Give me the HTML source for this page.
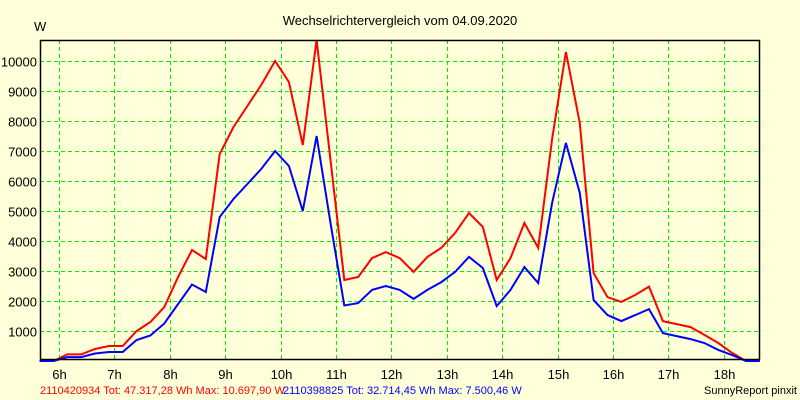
<!DOCTYPE html>
<html><head><meta charset="utf-8"><style>
html,body{margin:0;padding:0;background:#ffffd9;}
svg{display:block;font-family:"Liberation Sans",Arial,sans-serif;}
</style></head><body>
<svg id="chart" width="800" height="400" viewBox="0 0 800 400">
<rect x="0" y="0" width="800" height="400" fill="#ffffd9"/>
<text x="400" y="25" font-size="13" text-anchor="middle" fill="#000">Wechselrichtervergleich vom 04.09.2020</text>
<text x="34" y="31" font-size="13" fill="#000">W</text>
<g id="grid"></g>
<g id="series"></g>
<g id="axes"></g>
<text x="40" y="394" font-size="11" fill="#ff0000">2110420934 Tot: 47.317,28 Wh Max: 10.697,90 W</text>
<text x="283" y="394" font-size="11" fill="#0000ff">2110398825 Tot: 32.714,45 Wh Max: 7.500,46 W</text>
<text x="797" y="394" font-size="11" text-anchor="end" fill="#000">SunnyReport pinxit</text>
</svg>
<script>
const startHour = 5.65;
const stepHours = 0.25;
const yTicks = [1000,2000,3000,4000,5000,6000,7000,8000,9000,10000];
const hourTicks = [6,7,8,9,10,11,12,13,14,15,16,17,18];
const redValues = [0,0,220,220,400,500,500,1000,1300,1800,2800,3700,3400,6900,7800,8500,9200,10000,9300,7200,10700,6700,2700,2800,3430,3630,3430,2970,3470,3770,4270,4930,4470,2700,3430,4600,3770,7400,10300,7930,2930,2130,1970,2200,2480,1330,1230,1130,870,600,270,0,0];
const blueValues = [0,0,130,130,250,300,300,700,850,1250,1900,2550,2300,4800,5400,5900,6400,7000,6500,5000,7500,4600,1850,1930,2370,2500,2370,2070,2370,2630,2970,3470,3100,1830,2370,3130,2600,5270,7270,5600,2030,1530,1330,1530,1730,930,830,730,600,370,200,0,0];

const L=40,R=760,T=40,B=359.5;
const xs = h => 59 + (h-6)*55.4;
const ys = v => Math.max(T, 361 - v*0.03);
const NS='http://www.w3.org/2000/svg';
function mk(tag, parent){const e=document.createElementNS(NS,tag);parent.appendChild(e);return e;}
const grid=document.getElementById('grid'), axes=document.getElementById('axes'), series=document.getElementById('series');

yTicks.forEach(v=>{
  const y=Math.round(ys(v))+0.5;
  const ln=mk('line',grid);
  
  
  ln.setAttribute('x1',L);ln.setAttribute('x2',R);ln.setAttribute('y1',y);ln.setAttribute('y2',y);
  ln.setAttribute('stroke','#00ee00');ln.setAttribute('stroke-dasharray','4,3');
  const t=mk('text',axes);
  
  
  t.setAttribute('x',37);t.setAttribute('y',y+5);t.setAttribute('font-size','13');t.setAttribute('text-anchor','end');
  t.textContent=v;
});
hourTicks.forEach(h=>{
  const x=Math.round(xs(h))+0.5;
  const ln=mk('line',grid);
  
  
  ln.setAttribute('x1',x);ln.setAttribute('x2',x);ln.setAttribute('y1',T);ln.setAttribute('y2',B);
  ln.setAttribute('stroke','#00ee00');ln.setAttribute('stroke-dasharray','4,3');
  const t=mk('text',axes);
  
  
  t.setAttribute('x',x);t.setAttribute('y',379);t.setAttribute('font-size','13');t.setAttribute('text-anchor','middle');
  t.textContent=h+'h';
});
function drawLine(vals,color,name){
  const p=mk('polyline',series);
  
  
  p.setAttribute('points',vals.map((v,i)=>xs(startHour+i*stepHours).toFixed(1)+','+ys(v).toFixed(1)).join(' '));
  p.setAttribute('fill','none');p.setAttribute('stroke',color);p.setAttribute('stroke-width','2');
}
drawLine(redValues,'#ff0000','series-2110420934');
drawLine(blueValues,'#0000ff','series-2110398825');
const frame=mk('path',axes);


frame.setAttribute('d',`M${L+0.5},${B} L${L+0.5},${T+0.5} L${R-0.5},${T+0.5} L${R-0.5},${B} M${L},${B} L${R},${B}`);
frame.setAttribute('fill','none');frame.setAttribute('stroke','#000');frame.setAttribute('stroke-width','1.5');
</script>
</body></html>
